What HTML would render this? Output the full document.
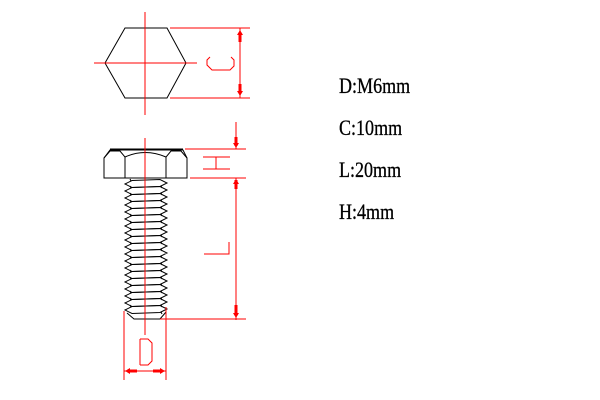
<!DOCTYPE html>
<html><head><style>
html,body{margin:0;padding:0;background:#fff;}
svg{display:block;}
.t{font-family:"Liberation Serif",serif;font-size:22px;fill:#000;stroke:#000;stroke-width:0.3;}
</style></head><body>
<svg width="600" height="400" viewBox="0 0 600 400" xmlns="http://www.w3.org/2000/svg">
<defs>
<path id="th" d="M125,0 L132,-3.5 L160,-4.5 L167,-1 L160,2.5 L132,3.5 Z M131,-3 L130,-5 M161,2 L162,4"/>
</defs>
<g stroke="#000" stroke-width="1" fill="none">
<polygon points="105,63 125,28 167,28 186,63 167,98 125,98"/>
<path d="M104,178 L104,158 L110,150 L183,150 L187,158 L187,178 Z"/>
<path d="M104,158 L110,151 L120,151 L125,157 L125,178"/>
<path d="M187,158 L181,151 L171,151 L166,157 L166,178"/>
<path d="M125,157 Q145,148 166,157"/>
<line x1="110" y1="149.5" x2="183" y2="149.5" stroke-width="2"/>
<use href="#th" y="184"/><use href="#th" y="191"/><use href="#th" y="198"/><use href="#th" y="205"/>
<use href="#th" y="212"/><use href="#th" y="219"/><use href="#th" y="226"/><use href="#th" y="233"/>
<use href="#th" y="240"/><use href="#th" y="247"/><use href="#th" y="254"/><use href="#th" y="261"/>
<use href="#th" y="268"/><use href="#th" y="275"/><use href="#th" y="282"/><use href="#th" y="289"/>
<use href="#th" y="296"/><use href="#th" y="303"/><use href="#th" y="310"/>
<path d="M127,313 L134,319 L160,319 L166,312"/>
</g>
<g stroke="#f00" stroke-width="1" fill="none">
<line x1="145" y1="12" x2="145" y2="115"/>
<line x1="94" y1="63" x2="197" y2="63"/>
<line x1="170" y1="28" x2="250" y2="28"/>
<line x1="170" y1="98" x2="250" y2="98"/>
<line x1="240" y1="28" x2="240" y2="98"/>
<line x1="145" y1="138" x2="145" y2="335"/>
<line x1="185" y1="149" x2="246" y2="149"/>
<line x1="190" y1="178" x2="246" y2="178"/>
<line x1="236" y1="122" x2="236" y2="149"/>
<line x1="236" y1="178" x2="236" y2="320"/>
<line x1="160" y1="319" x2="246" y2="319"/>
<line x1="124" y1="311" x2="124" y2="380"/>
<line x1="166" y1="307" x2="166" y2="380"/>
<line x1="124" y1="371" x2="166" y2="371"/>
<path d="M210,57 L207,60 L207,65 L212,70 L230,70 L234,66 L234,60 L231,57"/>
<path d="M203,157 L230,157 M203,169 L230,169 M216,157 L216,169"/>
<path d="M229,242 L229,254 L204,254"/>
<path d="M140,339 L140,365 M140,339 L148,339 L152,343 L152,361 L148,365 L140,365"/>
</g>
<g fill="#f00">
<rect x="238.5" y="33" width="3" height="9"/><polygon points="240,30 237,35 243,35"/>
<rect x="238.5" y="84" width="3" height="9"/><polygon points="240,96 237,91 243,91"/>
<rect x="234.5" y="137" width="3" height="9"/><polygon points="236,148 233,143 239,143"/>
<rect x="234.5" y="180" width="3" height="9"/><polygon points="236,179 233,184 239,184"/>
<rect x="234.5" y="305" width="3" height="9"/><polygon points="236,318 233,313 239,313"/>
<rect x="128" y="369.5" width="9" height="3"/><polygon points="125,371 130,368 130,374"/>
<rect x="153" y="369.5" width="9" height="3"/><polygon points="165,371 160,368 160,374"/>
</g>
<text class="t" transform="translate(339,93) scale(0.82,1)">D:M6mm</text>
<text class="t" transform="translate(339,135) scale(0.82,1)">C:10mm</text>
<text class="t" transform="translate(339,177) scale(0.82,1)">L:20mm</text>
<text class="t" transform="translate(339,219) scale(0.82,1)">H:4mm</text>
</svg>
</body></html>
